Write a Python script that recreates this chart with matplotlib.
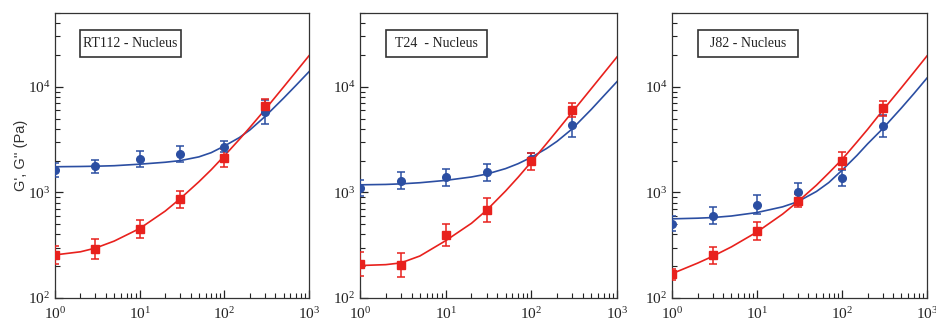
"""Modulos G' y G'' del nucleo para tres lineas celulares (RT112, T24, J82)."""

import matplotlib

matplotlib.use("Agg")
import matplotlib.pyplot as plt  # noqa: E402
from matplotlib.patches import Rectangle  # noqa: E402
from matplotlib.ticker import LogLocator, NullFormatter  # noqa: E402

plt.rcParams["font.family"] = ["Liberation Serif", "DejaVu Serif"]
plt.rcParams["mathtext.fontset"] = "custom"
plt.rcParams["mathtext.rm"] = "Liberation Serif"

COLOR_G1 = "#2b4ea2"  # G' (azul)
COLOR_G2 = "#e8211d"  # G'' (rojo)

# Frecuencias medidas (Hz)
freq = [1, 3, 10, 30, 100, 300]

# Frecuencias donde se leyeron las curvas de ajuste
fit_freq = [1, 2, 3, 5, 10, 20, 30, 50, 70, 100, 150, 200, 300, 500, 700, 1000]

panel_titles = ["RT112 - Nucleus", "T24  - Nucleus", "J82 - Nucleus"]

# Puntos medidos (Pa) y error relativo (%)
g1_points = [
    [1630, 1760, 2070, 2300, 2720, 5830],
    [1100, 1290, 1390, 1550, 2050, 4310],
    [504, 604, 762, 1000, 1370, 4250],
]
g1_err = [
    [17, 16, 20, 19, 12, 30],
    [18, 20, 20, 21, 14, 30],
    [18, 20, 23, 23, 20, 27],
]
g2_points = [
    [256, 289, 448, 861, 2110, 6600],
    [208, 205, 395, 684, 1970, 6000],
    [167, 253, 430, 838, 2000, 6240],
]
g2_err = [
    [21, 24, 22, 21, 21, 16],
    [30, 30, 26, 30, 20, 17],
    [13, 21, 21, 15, 21, 17],
]

# Curvas de ajuste (Pa) en fit_freq
g1_fit = [
    [1750, 1760, 1770, 1790, 1850, 1930, 2000, 2170, 2380, 2750, 3300, 3900, 5200, 7800, 10300, 13900],
    [1180, 1190, 1205, 1235, 1300, 1400, 1490, 1680, 1870, 2150, 2600, 3050, 4000, 6100, 8200, 11200],
    [562, 570, 578, 598, 645, 730, 815, 1020, 1240, 1620, 2240, 2880, 4000, 6300, 8600, 12100],
]
g2_fit = [
    [256, 274, 297, 346, 455, 665, 870, 1260, 1640, 2220, 3170, 4120, 6040, 9950, 13860, 19700],
    [203, 207, 215, 250, 349, 510, 677, 1030, 1390, 1946, 2890, 3840, 5760, 9600, 13440, 19200],
    [170, 214, 248, 305, 422, 623, 813, 1170, 1530, 2050, 3000, 3950, 5950, 9800, 13700, 19600],
]

# Posiciones de los paneles en fraccion de figura: [left, bottom, width, height]
panel_rects = [
    [0.0587, 0.0802, 0.2711, 0.8797],
    [0.3842, 0.0802, 0.2743, 0.8797],
    [0.7172, 0.0802, 0.2721, 0.8797],
]

fig = plt.figure(figsize=(9.37, 3.24), dpi=100)

for i in range(3):
    ax = fig.add_axes(panel_rects[i])
    ax.set_xscale("log")
    ax.set_yscale("log")

    ax.plot(fit_freq, g1_fit[i], color=COLOR_G1, linewidth=1.2, zorder=2)
    ax.plot(fit_freq, g2_fit[i], color=COLOR_G2, linewidth=1.2, zorder=2)

    for pts, err, color, marker in [
        (g1_points[i], g1_err[i], COLOR_G1, "o"),
        (g2_points[i], g2_err[i], COLOR_G2, "s"),
    ]:
        lo = [p - p / (1 + e / 100) for p, e in zip(pts, err)]
        hi = [p * e / 100 for p, e in zip(pts, err)]
        ax.errorbar(
            freq, pts, yerr=[lo, hi], fmt=marker, color=color, markersize=5.5,
            elinewidth=1.1, capsize=3, capthick=1.1, zorder=3,
        )

    ax.set_xlim(1, 1000)
    ax.set_ylim(100, 50000)

    ax.xaxis.set_major_locator(LogLocator(base=10, numticks=10))
    ax.xaxis.set_minor_locator(LogLocator(base=10, subs=range(2, 10), numticks=10))
    ax.yaxis.set_major_locator(LogLocator(base=10, numticks=10))
    ax.yaxis.set_minor_locator(LogLocator(base=10, subs=range(2, 10), numticks=10))
    ax.xaxis.set_minor_formatter(NullFormatter())
    ax.yaxis.set_minor_formatter(NullFormatter())
    ax.tick_params(which="both", direction="in", top=False, right=False,
                   labelsize=11, colors="#222222")
    ax.tick_params(which="major", length=6, width=0.9)
    ax.tick_params(which="minor", length=3.5, width=0.8)
    ax.tick_params(axis="x", pad=6)
    for sp in ax.spines.values():
        sp.set_linewidth(0.9)
        sp.set_color("#333333")

    # Caja con el nombre de la linea celular
    ax.add_patch(Rectangle((0.10, 0.845), 0.395, 0.095, transform=ax.transAxes,
                           fill=False, edgecolor="#333333", linewidth=1.2, zorder=4))
    ax.text(0.2975, 0.8925, panel_titles[i], transform=ax.transAxes,
            ha="center", va="center", fontsize=10, color="#222222")

    if i == 0:
        ax.set_ylabel("G', G'' (Pa)", family="Liberation Sans", fontsize=10.5,
                      color="#333333")
        ax.yaxis.set_label_coords(-0.105, 0.5)

fig.savefig("out.png", dpi=100)
